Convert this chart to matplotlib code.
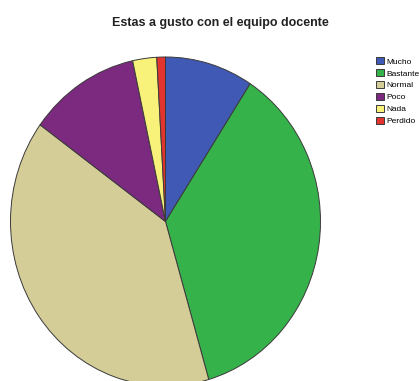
import numpy as np
import matplotlib.pyplot as plt

# Datos (porcentajes aproximados)
categorias = ["Mucho", "Bastante", "Normal", "Poco", "Nada", "Perdido"]
valores = [9.2, 36.3, 39.5, 11.6, 2.5, 0.9]
colores = ["#3f59b4", "#36b24a", "#d4cd98", "#7b2a7f", "#f8f27a", "#e2342f"]

plt.rcParams["font.family"] = ["Liberation Sans", "DejaVu Sans"]

fig = plt.figure(figsize=(4.19, 3.81), dpi=100)
W, H = 419, 381

# Eje del pastel: elipse con centro (165.5, 221.5) y radios 155 x 164.5 px
cx, cy, rx, ry = 165.5, 221.5, 155, 164.5
ax = fig.add_axes([(cx - rx) / W, (H - cy - ry) / H, 2 * rx / W, 2 * ry / H])
wedges, _ = ax.pie(valores, colors=colores, startangle=90, counterclock=False,
                   wedgeprops=dict(edgecolor="#3a3a3a", linewidth=0.7))
ax.set_aspect("auto")
ax.set_xlim(-1, 1)
ax.set_ylim(-1, 1)
ax.axis("off")

fig.text(220 / W, 1 - 23 / H, "Estas a gusto con el equipo docente",
         ha="center", va="center", fontsize=9, fontweight="bold", color="#222222")

leg = fig.legend(wedges, categorias, loc="upper left",
                 bbox_to_anchor=(376 / W, 1 - 57 / H), frameon=False,
                 fontsize=6, handlelength=1.0, handleheight=1.0,
                 handletextpad=0.2, labelspacing=0.4, borderpad=0,
                 borderaxespad=0)

fig.savefig("out.png", dpi=100)
